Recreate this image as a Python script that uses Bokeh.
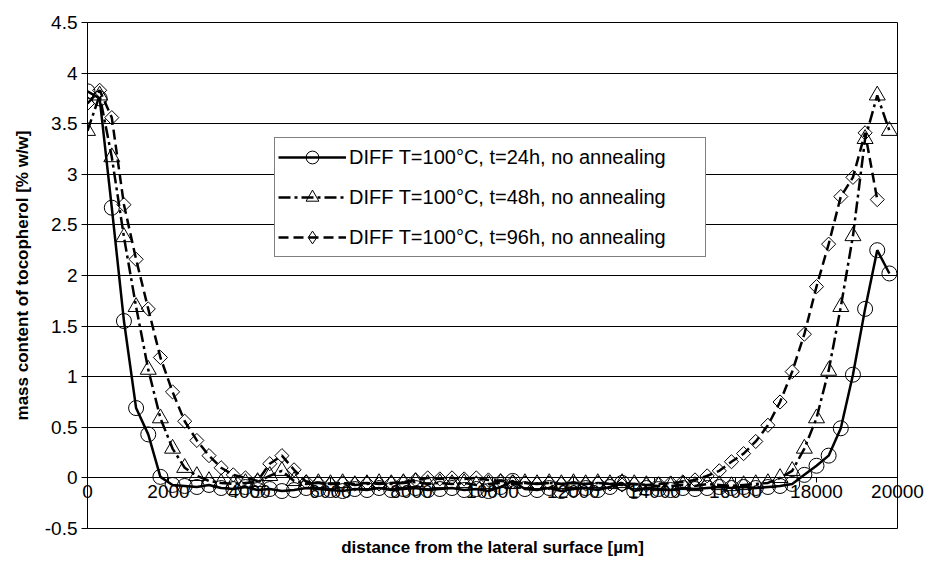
from bokeh.plotting import figure
from bokeh.models import (Range1d, FixedTicker, LinearAxis, Legend, LegendItem,
                          Title, Grid, ColumnDataSource)
from bokeh.embed import file_html
from bokeh.resources import INLINE

# ---------------- data ----------------
distance = [0, 300, 600, 900, 1200, 1500, 1800, 2100, 2400, 2700,
            3000, 3300, 3600, 3900, 4200, 4500, 4800, 5100, 5400, 5700,
            6000, 6300, 6600, 6900, 7200, 7500, 7800, 8100, 8400, 8700,
            9000, 9300, 9600, 9900, 10200, 10500, 10800, 11100, 11400, 11700,
            12000, 12300, 12600, 12900, 13200, 13500, 13800, 14100, 14400, 14700,
            15000, 15300, 15600, 15900, 16200, 16500, 16800, 17100, 17400, 17700,
            18000, 18300, 18600, 18900, 19200, 19500, 19800]

t24h = [3.82, 3.75, 2.67, 1.55, 0.69, 0.43, 0.01, -0.07, -0.08, -0.09,
        -0.07, -0.10, -0.11, -0.09, -0.12, -0.11, -0.13, -0.12, -0.10, -0.11,
        -0.12, -0.13, -0.11, -0.12, -0.10, -0.12, -0.11, -0.10, -0.12, -0.11,
        -0.10, -0.12, -0.11, -0.13, -0.09, -0.03, -0.11, -0.12, -0.10, -0.13,
        -0.11, -0.10, -0.12, -0.09, -0.05, -0.13, -0.10, -0.11, -0.12, -0.10,
        -0.11, -0.10, -0.09, -0.10, -0.09, -0.10, -0.09, -0.08, -0.06, 0.03,
        0.12, 0.22, 0.49, 1.02, 1.67, 2.25, 2.02]

t48h = [3.43, 3.78, 3.17, 2.38, 1.69, 1.07, 0.59, 0.29, 0.10, 0.02,
        -0.03, -0.05, -0.06, -0.05, -0.04, 0.02, 0.07, -0.03, -0.06, -0.05,
        -0.06, -0.05, -0.07, -0.06, -0.05, -0.06, -0.05, -0.04, -0.06, -0.05,
        -0.06, -0.05, -0.07, -0.06, -0.05, -0.06, -0.05, -0.06, -0.05, -0.06,
        -0.05, -0.06, -0.05, -0.06, -0.05, -0.06, -0.07, -0.08, -0.08, -0.07,
        -0.08, -0.06, -0.07, -0.08, -0.07, -0.06, -0.05, 0.00, 0.07, 0.29,
        0.59, 1.06, 1.69, 2.39, 3.35, 3.78, 3.43]

t96h = [3.70, 3.83, 3.56, 2.70, 2.16, 1.67, 1.19, 0.85, 0.56, 0.37,
        0.22, 0.10, 0.03, 0.00, -0.03, 0.14, 0.22, 0.08, -0.04, -0.05,
        -0.06, -0.05, -0.06, -0.05, -0.06, -0.05, -0.04, -0.02, 0.00, -0.01,
        0.00, -0.01, 0.00, -0.02, -0.03, -0.04, -0.05, -0.06, -0.05, -0.06,
        -0.05, -0.06, -0.05, -0.06, -0.07, -0.06, -0.07, -0.06, -0.05, -0.04,
        -0.02, 0.02, 0.07, 0.16, 0.24, 0.36, 0.52, 0.75, 1.05, 1.42,
        1.89, 2.31, 2.78, 2.97, 3.41, 2.75]

series_labels = ["DIFF T=100°C, t=24h, no annealing",
                 "DIFF T=100°C, t=48h, no annealing",
                 "DIFF T=100°C, t=96h, no annealing"]

x_ticks = [0, 2000, 4000, 6000, 8000, 10000, 12000, 14000, 16000, 18000, 20000]
x_tick_labels = ["0", "2000", "4000", "6000", "8000", "10000", "12000",
                 "14000", "16000", "18000", "20000"]
y_ticks = [-0.5, 0, 0.5, 1, 1.5, 2, 2.5, 3, 3.5, 4, 4.5]
y_tick_labels = ["-0.5", "0", "0.5", "1", "1.5", "2", "2.5", "3", "3.5", "4", "4.5"]

x_title = "distance from the lateral surface [µm]"
y_title = "mass content of tocopherol [% w/w]"

FONT = "Liberation Sans"

# ---------------- figure ----------------
p = figure(width=926, height=569, output_backend="svg", toolbar_location=None,
           x_range=Range1d(0, 20000), y_range=Range1d(-0.5, 4.5),
           x_axis_type=None, y_axis_type=None,
           min_border_left=87, min_border_right=29, min_border_top=22,
           min_border_bottom=41)
p.outline_line_color = "black"
p.outline_line_width = 1
p.background_fill_color = "white"
p.border_fill_color = "white"

yticker = FixedTicker(ticks=y_ticks)
xticker = FixedTicker(ticks=x_ticks)

p.add_layout(Grid(dimension=1, ticker=yticker, grid_line_color="black",
                  grid_line_width=1))

yaxis = LinearAxis(ticker=yticker,
                   major_label_overrides=dict(zip(y_ticks, y_tick_labels)),
                   axis_label=y_title)
yaxis.axis_line_color = "black"
yaxis.major_tick_in = 0
yaxis.major_tick_out = 6
yaxis.minor_tick_out = 0
yaxis.minor_tick_in = 0
yaxis.major_label_text_font = FONT
yaxis.major_label_text_font_size = "19px"
yaxis.major_label_text_color = "black"
yaxis.major_label_standoff = 4
yaxis.axis_label_text_font = FONT
yaxis.axis_label_text_font_size = "17px"
yaxis.axis_label_text_font_style = "bold"
yaxis.axis_label_text_color = "black"
yaxis.axis_label_standoff = 10
p.add_layout(yaxis, "left")

# axis line + ticks drawn at y = 0
xline = LinearAxis(ticker=xticker, fixed_location=0)
xline.axis_line_color = "black"
xline.major_tick_in = 0
xline.major_tick_out = 5
xline.minor_tick_out = 0
xline.minor_tick_in = 0
xline.major_label_text_color = None
p.add_layout(xline, "below")

# tick labels, lifted up to sit just under the y = 0 line
xlab = LinearAxis(ticker=xticker,
                  major_label_overrides=dict(zip(x_ticks, x_tick_labels)))
xlab.axis_line_color = None
xlab.major_tick_in = 0
xlab.major_tick_out = 0
xlab.minor_tick_out = 0
xlab.minor_tick_in = 0
xlab.major_label_text_font = FONT
xlab.major_label_text_font_size = "19px"
xlab.major_label_text_color = "black"
xlab.major_label_standoff = -44
p.add_layout(xlab, "below")

xt = Title(text=x_title, align="center", text_font=FONT, text_font_size="17px",
           text_font_style="bold", text_color="black", standoff=14)
p.add_layout(xt, "below")

# ---------------- series ----------------
l1 = p.line(distance, t24h, line_color="black", line_width=2.5)
s1 = p.scatter(distance, t24h, marker="circle", size=15, fill_color=None,
               line_color="black", line_width=1)

l2 = p.line(distance, t48h, line_color="black", line_width=2.5,
            line_dash="12 4 3 4")
s2 = p.scatter(distance, t48h, marker="triangle", size=16, fill_color=None,
               line_color="black", line_width=1)

d_x = distance[:len(t96h)]
src96 = ColumnDataSource(data=dict(x=d_x, y=t96h))
l3 = p.line("x", "y", source=src96, line_color="black", line_width=2.5,
            line_dash="10 5")
s3 = p.scatter("x", "y", source=src96, marker="square", size=10,
               angle=0.785398, fill_color=None, line_color="black", line_width=1)
# zero-size diamond renderer: invisible in the plot, gives the legend its diamond
s3_leg = p.scatter("x", "y", source=src96, marker="diamond", size=0,
                   fill_color=None, line_color="black", line_width=1)

legend = Legend(items=[LegendItem(label=series_labels[0], renderers=[l1, s1]),
                       LegendItem(label=series_labels[1], renderers=[l2, s2]),
                       LegendItem(label=series_labels[2], renderers=[l3, s3_leg])],
                location=(187, 271))
legend.label_text_font = FONT
legend.label_text_font_size = "20px"
legend.label_text_color = "black"
legend.glyph_width = 68
legend.glyph_height = 32
legend.label_height = 32
legend.label_width = 353
legend.label_standoff = 3
legend.spacing = 8
legend.padding = 3
legend.margin = 0
legend.border_line_color = "black"
legend.border_line_width = 1
legend.background_fill_color = "white"
legend.background_fill_alpha = 1
p.add_layout(legend, "center")

open("out.html", "w").write(file_html(p, INLINE))
